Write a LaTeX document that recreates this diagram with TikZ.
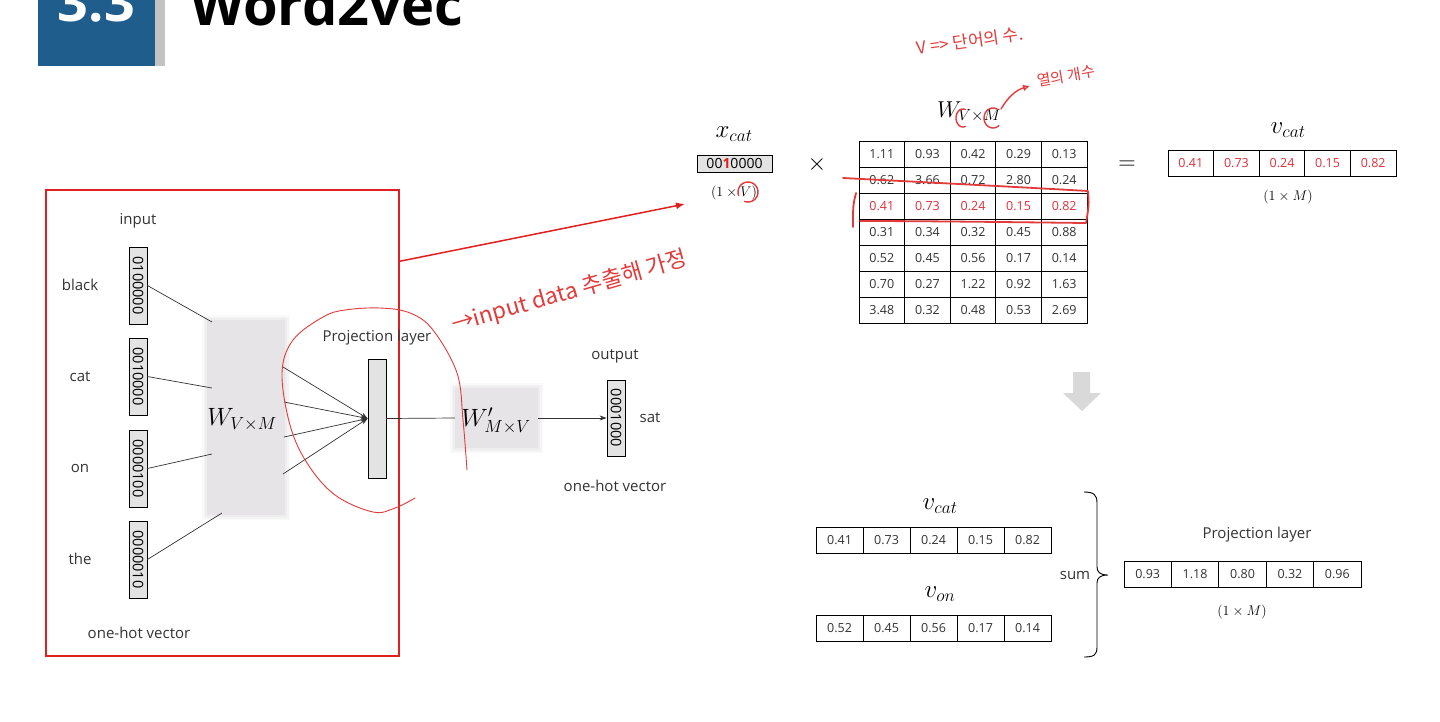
\RequirePackage{fix-cm}
\documentclass[tikz,border=0pt]{standalone}
\usepackage{fontspec}
\setmainfont{Open Sans}
\newfontfamily\kr{Noto Sans CJK KR}
\usetikzlibrary{arrows.meta,calc}
\definecolor{hdrblue}{HTML}{1F5E8C}
\definecolor{hdrgray}{HTML}{C3C3C3}
\definecolor{vecgray}{HTML}{E3E3E3}
\definecolor{wgray}{HTML}{E6E4E6}
\definecolor{penred}{HTML}{E23B3B}
\definecolor{redline}{HTML}{E01F1F}
\definecolor{celltxt}{HTML}{333333}
\definecolor{redtxt}{HTML}{E0303A}
\definecolor{arrgray}{HTML}{D9D9D9}
\newcommand\fs[1]{\fontsize{#1}{#1}\selectfont}
\newcommand\cellrow[6]{\foreach \v [count=\c] in {#6}{\node[cell,text=#5,minimum width=#4pt] (#1\c) at ({#2+#4*(\c-0.5)},#3) {\v};}}
\begin{document}
\begin{tikzpicture}[x=1pt,y=-1pt,
  lbl/.style={font=\fs{15}, text=celltxt, inner sep=0},
  vecbox/.style={draw, fill=vecgray, line width=0.8, minimum width=18pt, minimum height=77pt, inner sep=0},
  vectxt/.style={rotate=-90, font=\fs{14.5}, inner sep=0},
  wbox/.style={fill=wgray, inner sep=0},
  cell/.style={draw, line width=0.9, minimum height=26pt, inner sep=0, font=\fs{12.5}},
  conn/.style={line width=0.7, draw=black!80},
  tip/.style={-{Stealth[length=7pt,width=5pt]}},
  penline/.style={draw=penred, line cap=round, line join=round},
  note/.style={font=\kr, text=penred, inner sep=0},
  mathlbl/.style={inner sep=0}
]
\useasboundingbox (0,0) rectangle (1440,721);
\fill[white] (0,0) rectangle (1440,721);

% header
\fill[hdrblue] (38,-10) rectangle (155,66);
\fill[hdrgray] (155,-10) rectangle (165,66);
\node[font=\fs{54}\bfseries, text=white, anchor=base, inner sep=0] (num) at (96.5,21) {3.3};
\node[font=\fs{56}\bfseries, anchor=base west, inner sep=0] (title) at (190,25) {Word2vec};

% left frame
\node[draw=redline, line width=1.5, minimum width=353pt, minimum height=466pt, inner sep=0] (frame) at (222.5,423) {};

\node[lbl] (input) at (138,221) {input};
\node[lbl] (lblack) at (80,285) {black};
\node[lbl] (lcat) at (80,377) {cat};
\node[lbl] (lon) at (80,468) {on};
\node[lbl] (lthe) at (80,559) {the};
\node[lbl] (ohv1) at (139,633) {one-hot vector};

\node[vecbox] (vblack) at (138,285.5) {};
\node[vectxt] at (vblack) {0100000};
\node[vecbox] (vcat) at (138,376.5) {};
\node[vectxt] at (vcat) {0010000};
\node[vecbox] (von) at (138,468.5) {};
\node[vectxt] at (von) {0000100};
\node[vecbox] (vthe) at (138,559.5) {};
\node[vectxt] at (vthe) {0000010};

% W box (soft edges)
\foreach \i/\o in {5/0.15,3.5/0.25,2/0.35}
  \fill[wgray,opacity=\o] (207-\i,320-\i) rectangle (285+\i,515+\i);
\node[wbox, minimum width=78pt, minimum height=195pt] (W) at (246,417.5) {};
\node[mathlbl, font=\fs{25}] (Wlab) at (242,420) {$W_{V\times M}$};

\coordinate (wb1) at (212,322);
\coordinate (wb2) at (212,388);
\coordinate (wb3) at (212,454);
\coordinate (wb4) at (222,513);
\draw[conn] (vblack.east) -- (wb1);
\draw[conn] (vcat.east) -- (wb2);
\draw[conn] (von.east) -- (wb3);
\draw[conn] (vthe.east) -- (wb4);

% projection layer
\node[vecbox, minimum height=119pt] (proj) at (377,418.5) {};
\node[lbl] (projlab) at (377,338) {Projection layer};
\coordinate (wr1) at (283,367);
\coordinate (wr2) at (284,402);
\coordinate (wr3) at (284,437);
\coordinate (wr4) at (283,474);
\foreach \k in {1,2,3,4} \draw[conn,tip] (wr\k) -- (proj.west);

% W' box
\foreach \i/\o in {5/0.15,3.5/0.25,2/0.35}
  \fill[wgray,opacity=\o] (455-\i,388-\i) rectangle (538+\i,448+\i);
\node[wbox, minimum width=83pt, minimum height=60pt] (Wp) at (496.5,418) {};
\node[mathlbl, font=\fs{25}] (Wplab) at (496,421) {$W'_{M\times V}$};
\draw[conn] (proj.east) -- (Wp.west);

% output
\node[vecbox, minimum height=76pt] (out) at (616,418) {};
\node[vectxt] at (out) {0001000};
\draw[conn,tip] (Wp.east) -- (out.west);
\node[lbl] (outlab) at (615,356) {output};
\node[lbl] (sat) at (650,418) {sat};
\node[lbl] (ohv2) at (615,486) {one-hot vector};

% red arrow
\coordinate (xtip) at (685,204);
\draw[redline, line width=1.5, -{Latex[length=9pt,width=7pt]}] ($(frame.north east)+(0,72)$) -- (xtip);

% hand-drawn loop around the projection layer
\draw[penline, line width=0.9] plot[smooth, tension=0.6] coordinates {(467,470) (463,420) (457,373) (433,330) (410,313) (380,308) (345,310) (323,317) (293,340) (282,373) (290,425) (307,463) (335,495) (373,512) (395,508) (415,498)};
\node[note, font=\kr\fs{22.5}, rotate=16, anchor=west] (note1) at (452,326) {→input data 추출해 가정};

% x_cat
\node[mathlbl, font=\fs{25}] (xlab) at (734,134) {$x_{cat}$};
\node[draw, fill=vecgray, line width=0.8, minimum width=75pt, minimum height=17pt, inner sep=0, font=\fs{14}] (xvec) at (734.5,163.5) {00\textcolor{redline}{\textbf{1}}0000};
\node[mathlbl, font=\fs{14}] (xdim) at (734,193) {$(1\times V)$};
\draw[penline, line width=1.4] plot[smooth, domain=-200:110, samples=25] ({748+10*cos(\x)},{192+10*sin(\x)});

\node[mathlbl, font=\fs{24}] (times) at (817,164) {$\times$};

% matrix W
\node[mathlbl, font=\fs{23}] (wlab) at (969,112) {$W_{V\times M}$};
\cellrow{m1}{859}{154}{45.6}{celltxt}{1.11,0.93,0.42,0.29,0.13}
\cellrow{m2}{859}{180}{45.6}{celltxt}{0.62,3.66,0.72,2.80,0.24}
\cellrow{m3}{859}{206}{45.6}{redtxt}{0.41,0.73,0.24,0.15,0.82}
\cellrow{m4}{859}{232}{45.6}{celltxt}{0.31,0.34,0.32,0.45,0.88}
\cellrow{m5}{859}{258}{45.6}{celltxt}{0.52,0.45,0.56,0.17,0.14}
\cellrow{m6}{859}{284}{45.6}{celltxt}{0.70,0.27,1.22,0.92,1.63}
\cellrow{m7}{859}{310}{45.6}{celltxt}{3.48,0.32,0.48,0.53,2.69}

% hand-drawn marks on the matrix
\draw[penline, line width=1.8] (843,178) .. controls (900,181) and (1000,186) .. (1088,191) .. controls (1089,205) .. (1086,223) .. controls (1000,222) and (920,221) .. (860,221);
\draw[penline, line width=1.8] (856,193) .. controls (853,205) .. (853,227);
\draw[penline, line width=1.4] plot[smooth, domain=70:290, samples=20] ({963+7*cos(\x)},{118+9*sin(\x)});
\draw[penline, line width=1.4] plot[smooth, domain=50:300, samples=20] ({993+9*cos(\x)},{118+10*sin(\x)});
\coordinate (notetip) at (1030,86);
\draw[penline, line width=1.4, -{Latex[open,length=7pt,width=7pt]}] (1001,109) .. controls (1008,97) and (1016,90) .. (notetip);
\node[note, font=\kr\fs{15}, rotate=10] (note3) at (1066,76) {열의 개수};
\node[note, font=\kr\fs{17}, rotate=8] (note2) at (970,41) {V => 단어의 수.};

% = and v_cat
\node[mathlbl, font=\fs{24}] (eq) at (1127,165) {$=$};
\node[mathlbl, font=\fs{25}] (vclab) at (1288,130) {$v_{cat}$};
\cellrow{vc}{1168}{163}{45.6}{redtxt}{0.41,0.73,0.24,0.15,0.82}
\node[mathlbl, font=\fs{14}] (vcdim) at (1288,197) {$(1\times M)$};

% down arrow
\fill[arrgray] (1073,372) -- (1090,372) -- (1090,393) -- (1101,393) -- (1082,411) -- (1063,393) -- (1073,393) -- cycle;

% bottom sum
\node[mathlbl, font=\fs{25}] (bclab) at (940,506) {$v_{cat}$};
\cellrow{bc}{816}{540}{47}{celltxt}{0.41,0.73,0.24,0.15,0.82}
\node[mathlbl, font=\fs{25}] (bolab) at (940,594) {$v_{on}$};
\cellrow{bo}{816}{628}{47}{celltxt}{0.52,0.45,0.56,0.17,0.14}
\node[lbl] (sum) at (1075,575) {sum};
\draw[line width=0.9] (1084,492) .. controls (1094,492) and (1097,495) .. (1097,503) -- (1097,567) .. controls (1097,572) and (1100,575) .. (1108,575) .. controls (1100,575) and (1097,578) .. (1097,583) -- (1097,647) .. controls (1097,655) and (1094,657) .. (1084,657);
\node[lbl] (pllab) at (1257,535) {Projection layer};
\cellrow{pl}{1124}{574}{47.4}{celltxt}{0.93,1.18,0.80,0.32,0.96}
\node[mathlbl, font=\fs{14}] (pldim) at (1242,612) {$(1\times M)$};
\end{tikzpicture}
\end{document}
